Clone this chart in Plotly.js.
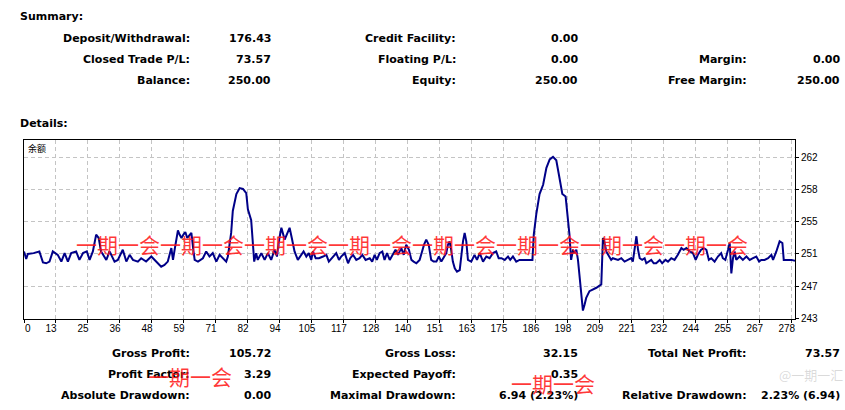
<!DOCTYPE html>
<html><head><meta charset="utf-8">
<script src="https://cdn.plot.ly/plotly-3.0.1.min.js"></script>
<style>html,body{margin:0;padding:0;background:#fff}#chart{width:845px;height:410px}</style>
</head><body><div id="chart"></div>
<script>
// ---- data ----
const trade = [0,0.8,1.4,3.5,5.6,6.9,8.1,9.3,10.5,12.3,13.6,14.8,16.0,17.2,19.0,20.2,21.5,22.9,23.9,25.1,26.3,27.2,28.1,30.0,31.2,33.0,34.2,36.0,37.3,38.5,39.7,41.5,42.7,44.5,46.4,48.2,50.0,51.2,52.4,53.7,54.3,54.9,55.6,56.1,56.7,57.4,58.1,58.8,59.5,60.3,61.0,61.6,62.2,63.4,65.2,66.4,67.6,68.8,70.1,71.3,72.5,73.7,74.3,75.5,76.1,77.4,78.6,79.8,81.0,81.6,82.8,83.4,83.9,84.6,85.2,86.5,87.7,88.9,90.1,91.3,92.2,93.1,93.8,95.0,96.2,96.8,97.6,98.6,99.8,101.05,101.9,102.9,103.8,104.7,105.3,106.3,107.5,109.0,110.2,111.1,112.6,113.8,114.8,115.6,116.9,118.1,118.9,119.9,121.1,122.3,123.3,124.5,126.0,126.9,127.8,128.6,129.6,130.6,131.4,132.3,133.3,134.5,135.4,136.3,137.5,138.4,139.3,140.3,141.2,142.0,143.0,144.2,145.2,145.8,146.6,147.5,148.4,149.3,150.3,151.2,152.1,152.9,153.9,154.5,155.1,155.7,156.3,157.0,157.8,158.8,159.4,160.0,160.6,161.2,161.8,163.0,164.2,165.1,166.1,167.3,168.5,169.7,170.9,172.1,173.0,174.0,175.2,176.4,177.2,178.2,179.4,180.6,181.9,183.1,184.3,185.3,185.8,186.7,187.9,189.2,190.4,191.6,192.8,194.0,195.0,196.2,197.4,198.2,198.8,199.4,200.1,200.7,201.3,201.9,202.5,203.1,203.7,204.3,204.9,206.1,207.4,208.6,210.4,211.0,211.4,212.2,214.0,214.6,216.5,217.7,218.9,220.1,221.3,221.9,222.5,223.2,223.8,224.4,225.3,226.2,226.8,227.8,228.6,229.5,230.4,231.7,232.6,233.8,234.7,235.9,237.1,238.3,239.6,240.4,241.4,242.6,243.8,244.8,245.6,246.8,247.8,248.7,249.6,250.5,251.7,252.9,254.1,254.7,255.6,256.6,257.2,257.8,258.4,259.0,259.6,260.8,262.0,263.3,264.5,265.7,266.9,267.9,268.7,269.9,271.2,272.4,273.0,274.2,275.4,276.4,276.9,277.8,279.7,281.0];
const balance = [251.0,250.1,250.7,250.8,251.0,249.7,249.6,249.8,251.0,250.6,249.8,250.8,249.8,250.8,251.0,250.0,250.8,251.0,250.0,251.0,253.0,252.6,251.0,250.0,251.0,249.8,250.0,251.2,249.8,250.6,250.0,249.8,250.2,249.8,250.4,249.8,249.2,249.4,249.8,251.4,250.0,251.2,252.6,253.5,253.0,252.6,253.0,253.3,252.6,252.9,253.2,251.5,250.0,249.8,250.2,251.0,250.4,250.8,249.8,250.6,250.2,249.8,250.4,253.2,255.8,257.8,258.5,258.4,257.9,256.0,254.7,252.5,249.8,250.8,250.0,250.8,250.0,250.8,250.0,251.2,250.4,252.6,253.8,252.4,253.2,253.8,252.6,251.0,250.0,250.6,251.0,250.4,250.8,250.0,251.0,250.2,250.2,250.4,250.6,249.8,250.4,250.8,250.0,250.4,250.8,249.6,250.2,250.6,250.0,250.2,250.6,250.0,250.2,249.8,250.6,250.0,250.8,251.0,250.0,250.8,250.0,250.8,251.2,250.6,251.4,250.6,251.8,251.2,250.0,249.8,249.6,250.0,251.2,251.8,252.4,251.8,250.0,249.8,249.8,250.4,249.8,250.2,250.8,251.8,252.2,251.2,249.8,249.0,248.6,248.8,250.6,252.2,253.2,252.2,250.0,249.8,250.6,250.0,250.8,249.8,250.4,250.2,250.8,251.0,250.2,250.2,250.0,250.4,250.0,250.4,249.8,250.0,250.0,250.0,250.0,250.0,253.0,255.4,257.8,258.9,260.9,261.9,262.2,261.8,260.0,257.8,257.5,255.0,253.0,250.0,251.2,250.8,251.2,250.0,248.2,245.9,244.0,244.7,245.5,246.3,246.5,246.7,247.1,252.6,252.4,251.0,250.0,250.2,250.0,250.2,249.8,250.0,250.2,249.8,251.4,252.8,251.2,250.2,250.0,250.2,249.6,249.8,250.0,249.6,249.6,250.0,249.6,250.0,249.8,250.2,250.0,250.6,251.4,251.2,251.4,251.0,250.8,250.0,250.6,251.2,251.4,251.2,250.0,250.2,249.8,250.4,250.8,250.2,250.0,251.2,252.0,248.4,250.2,251.0,250.0,250.4,250.0,250.4,250.0,250.2,250.4,249.8,250.0,250.0,250.2,250.6,250.0,251.0,252.2,252.0,250.0,250.0,250.0,249.9];
const xTickText = ['0','13','25','36','48','59','71','82','94','105','117','128','140','151','163','175','186','198','209','221','232','244','255','267','278'];
const yTickVals = [243.1, 246.9, 250.7, 254.5, 258.3, 262.1];
const yTickText = ['243','247','251','255','258','262'];
const seriesName = '余额';
const summaryLabels = [['Deposit/Withdrawal:','Closed Trade P/L:','Balance:'],['Credit Facility:','Floating P/L:','Equity:'],['','Margin:','Free Margin:']];
const summaryValues = [['176.43','73.57','250.00'],['0.00','0.00','250.00'],['','0.00','250.00']];
const detailLabels = [['Gross Profit:','Profit Factor:','Absolute Drawdown:'],['Gross Loss:','Expected Payoff:','Maximal Drawdown:'],['Total Net Profit:','','Relative Drawdown:']];
const detailValues = [['105.72','3.29','0.00'],['32.15','0.35','6.94 (2.23%)'],['73.57','','2.23% (6.94)']];
const watermark = '一期一会';

// ---- layout geometry ----
const W = 845, H = 410, L = 24, R = 50, T = 140, B = 91;
const pw = W - L - R, ph = H - T - B;
const xMax = 281;
const xStep = 11.66;
const xTickVals = xTickText.map((_, k) => k * xStep);
// the first tick label sits inside the frame in the reference; draw it as text
const xTickShown = xTickText.map((t, k) => k === 0 ? '' : t);

function ann(text, px, py, o) {
  return Object.assign({
    text: text, xref: 'paper', yref: 'paper',
    x: (px - L) / pw, y: (H - B - py) / ph,
    showarrow: false, xanchor: 'right', yanchor: 'middle',
    borderpad: 0, borderwidth: 0,
    font: {family: 'DejaVu Sans', size: 11, color: '#000', weight: 'bold'}
  }, o || {});
}

const tickFont = {family: 'Liberation Sans', size: 10, color: '#000'};
const annotations = [];
annotations.push(ann('Summary:', 20, 17, {xanchor: 'left'}));
annotations.push(ann('Details:', 20, 123, {xanchor: 'left'}));
const labelX = [190, 456, 747];
const valueX = [271, 578, 840];
const topRows = [38.5, 59.5, 80.5];
const botRows = [353, 374, 395];
for (let c = 0; c < 3; c++) {
  for (let r = 0; r < 3; r++) {
    if (summaryLabels[c][r]) annotations.push(ann(summaryLabels[c][r], labelX[c], topRows[r]));
    if (summaryValues[c][r]) annotations.push(ann(summaryValues[c][r], valueX[c], topRows[r]));
    if (detailLabels[c][r]) annotations.push(ann(detailLabels[c][r], labelX[c], botRows[r]));
    if (detailValues[c][r]) annotations.push(ann(detailValues[c][r], valueX[c], botRows[r]));
  }
}
annotations.push(ann(xTickText[0], 27.5, 328, {xanchor: 'center', font: tickFont}));
annotations.push(ann(seriesName, 28, 148.5, {xanchor: 'left', font: {family: 'Noto Sans CJK SC', size: 9, color: '#000'}}));
const redFont = {family: 'Noto Sans CJK SC', size: 21, color: 'rgba(255,20,20,0.85)'};
annotations.push(ann(watermark.repeat(8), 76, 244, {xanchor: 'left', font: redFont}));
annotations.push(ann(watermark, 148, 376, {xanchor: 'left', font: redFont}));
annotations.push(ann(watermark, 511, 383, {xanchor: 'left', font: redFont}));
annotations.push(ann('@一期一汇', 843, 374, {font: {family: 'Noto Sans CJK SC', size: 13, color: 'rgba(150,150,150,0.35)'}}));

const axisCommon = {
  showline: true, mirror: true, linecolor: '#000', linewidth: 1,
  showgrid: true, gridcolor: '#c4c4c4', gridwidth: 1, griddash: '4px,3px',
  zeroline: false, ticks: 'outside', ticklen: 3, tickcolor: '#000',
  tickfont: tickFont,
  fixedrange: true
};

const data = [{
  type: 'scatter', mode: 'lines', x: trade, y: balance,
  line: {color: '#000088', width: 2}, hoverinfo: 'skip'
}];

const layout = {
  width: W, height: H,
  margin: {l: L, r: R, t: T, b: B, pad: 0},
  paper_bgcolor: '#fff', plot_bgcolor: '#fff',
  showlegend: false,
  xaxis: Object.assign({}, axisCommon, {
    range: [0, xMax], tickmode: 'array', tickvals: xTickVals, ticktext: xTickShown,
    ticklabelshift: -5, ticklabelstandoff: -3
  }),
  yaxis: Object.assign({}, axisCommon, {
    side: 'right', range: [243.0, 264.2], tickmode: 'array',
    tickvals: yTickVals, ticktext: yTickText
  }),
  annotations: annotations
};

Plotly.newPlot('chart', data, layout, {displayModeBar: false, staticPlot: true});
</script></body></html>
